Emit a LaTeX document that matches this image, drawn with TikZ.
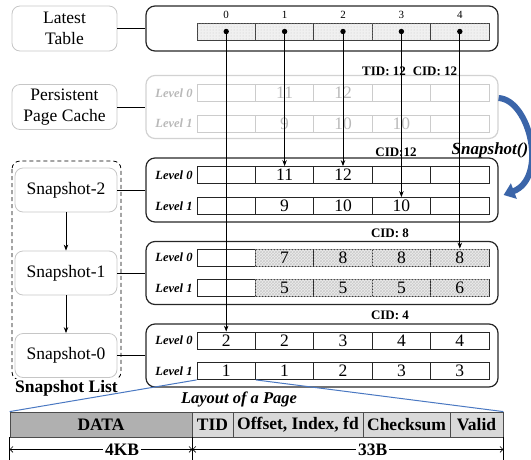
\documentclass[tikz,border=0pt]{standalone}
\usepackage{fontspec}
\setmainfont{Liberation Serif}
\usetikzlibrary{arrows.meta,calc,patterns}
\definecolor{snapblue}{HTML}{3B65A9}
\definecolor{lineblue}{HTML}{4A78C2}
\tikzset{
  lbl/.style={draw=gray!45, line width=0.8pt, rounded corners=8pt, minimum width=105pt, minimum height=45pt,
    font=\fontsize{17.5}{20.5}\selectfont, align=center, inner sep=0pt},
  snlbl/.style={lbl, minimum width=102pt, minimum height=44pt},
  cont/.style={draw=black!85, line width=1.2pt, rounded corners=9pt, minimum width=352pt, inner sep=0pt},
  gcont/.style={cont, draw=gray!35},
  cellbox/.style={draw=black!85, line width=0.8pt, minimum width=58.4pt, minimum height=17pt, inner sep=0pt,
    font=\fontsize{17.5}{17.5}\selectfont},
  gcell/.style={cellbox, draw=gray!40, text=gray!55},
  hcell/.style={cellbox, fill=gray!14, postaction={pattern=crosshatch, pattern color=gray!40}},
  lcell/.style={cellbox, fill=gray!12, draw=black!75, postaction={pattern=dots, pattern color=gray!45}},
  lvl/.style={font=\fontsize{12.5}{12.5}\selectfont\bfseries\itshape, inner sep=0pt},
  glvl/.style={lvl, text=gray!55},
  tag/.style={font=\fontsize{13}{13}\selectfont\bfseries, inner sep=0pt},
  ptr/.style={line width=0.8pt, -{Stealth[length=6pt,width=4.5pt]}},
  conn/.style={line width=0.8pt},
  barbox/.style={draw=black!70, line width=0.8pt, minimum height=25pt, inner sep=0pt,
    font=\fontsize{17.5}{17.5}\selectfont\bfseries, fill=gray!30},
  dim/.style={line width=0.6pt, {Straight Barb[length=3pt,width=6pt]}-{Straight Barb[length=3pt,width=6pt]}},
  dimlbl/.style={fill=white, inner sep=2pt, font=\fontsize{17.5}{17.5}\selectfont\bfseries},
}
\begin{document}
\begin{tikzpicture}[x=1pt,y=-1pt]
\useasboundingbox (0,0) rectangle (531,459);

% left labels
\node[lbl] (latL) at (64.5,28.5) {Latest\\Table};
\node[lbl] (perL) at (64.5,107) {Persistent\\Page Cache};
\draw[dashed, line width=0.8pt, rounded corners=8pt, dash pattern=on 4pt off 3pt] (12,161) rectangle (121,380);
\node[snlbl] (sn2) at (66,190) {Snapshot-2};
\node[snlbl] (sn1) at (66,273) {Snapshot-1};
\node[snlbl] (sn0) at (66,355.5) {Snapshot-0};
\node[font=\fontsize{17.5}{17.5}\selectfont\bfseries, fill=white, inner sep=1pt] (sl) at (66.5,388) {Snapshot List};

% containers
\node[cont, minimum height=45pt] (lat) at (322,28.5) {};
\node[gcont, minimum height=63pt] (per) at (322,107) {};
\node[cont, minimum height=64pt] (s2) at (322,190) {};
\node[cont, minimum height=63pt] (s1) at (322,273) {};
\node[cont, minimum height=63pt] (s0) at (322,355.5) {};

\draw[conn] (latL) -- (lat);
\draw[conn] (perL) -- (per);
\draw[conn] (sn2) -- (s2);
\draw[conn] (sn1) -- (s1);
\draw[conn] (sn0) -- (s0);
\draw[ptr] (sn2) -- (sn1);
\draw[ptr] (sn1) -- (sn0);

% latest table cells
\foreach \i in {0,...,4} {
  \node[lcell] (lt-\i) at ({226.2+58.4*\i},31.5) {};
  \node[font=\fontsize{11}{11}\selectfont, inner sep=0pt] (ln-\i) at ({226.2+58.4*\i},15) {\i};
}

% persistent cache
\node[glvl] (pl0) at (174,93) {Level 0};
\node[glvl] (pl1) at (174,123.5) {Level 1};
\foreach \v [count=\i from 0] in {{},11,12,{},{}}
  \node[gcell] (pa-\i) at ({226.2+58.4*\i},93) {\v};
\foreach \v [count=\i from 0] in {{},9,10,10,{}}
  \node[gcell] (pb-\i) at ({226.2+58.4*\i},123.5) {\v};
\node[tag] (tid) at (384,71) {TID: 12};
\node[tag] (cid) at (435,71) {CID: 12};

% snapshot-2
\node[tag] (c2) at (396,152) {CID:12};
\node[lvl] (s2l0) at (174,175) {Level 0};
\node[lvl] (s2l1) at (174,206) {Level 1};
\foreach \v [count=\i from 0] in {{},11,12,{},{}}
  \node[cellbox] (s2a-\i) at ({226.2+58.4*\i},175) {\v};
\foreach \v [count=\i from 0] in {{},9,10,10,{}}
  \node[cellbox] (s2b-\i) at ({226.2+58.4*\i},206) {\v};

% snapshot-1
\node[tag] (c1) at (390,233) {CID: 8};
\node[lvl] (s1l0) at (174,257.5) {Level 0};
\node[lvl] (s1l1) at (174,288) {Level 1};
\node[cellbox] (s1a-0) at (226.2,257.5) {};
\node[cellbox] (s1b-0) at (226.2,288) {};
\foreach \v [count=\i from 1] in {7,8,8,8}
  \node[hcell] (s1a-\i) at ({226.2+58.4*\i},257.5) {\v};
\foreach \v [count=\i from 1] in {5,5,5,6}
  \node[hcell] (s1b-\i) at ({226.2+58.4*\i},288) {\v};

% snapshot-0
\node[tag] (c0) at (390,315) {CID: 4};
\node[lvl] (s0l0) at (174,340.5) {Level 0};
\node[lvl] (s0l1) at (174,371) {Level 1};
\foreach \v [count=\i from 0] in {2,2,3,4,4}
  \node[cellbox] (s0a-\i) at ({226.2+58.4*\i},340.5) {\v};
\foreach \v [count=\i from 0] in {1,1,2,3,3}
  \node[cellbox] (s0b-\i) at ({226.2+58.4*\i},371) {\v};

% pointers
\draw[ptr] (lt-0.center) -- (s0a-0.north);
\draw[ptr] (lt-1.center) -- (s2a-1.north);
\draw[ptr] (lt-2.center) -- (s2a-2.north);
\draw[ptr] (lt-3.center) -- (s2b-3.north);
\draw[ptr] (lt-4.center) -- (s1a-4.north);
\foreach \i in {0,...,4} \fill (lt-\i.center) circle (2.7pt);

% snapshot arrow
\node[font=\fontsize{17}{17}\selectfont\bfseries\itshape, inner sep=0pt] (snp) at (490,150) {Snapshot()};
\draw[snapblue, line width=6pt, -{Triangle[length=11pt,width=16pt]}]
  ($(per.east)+(0,-9)$) .. controls (530,100) and (548,178) .. ($(s2.east)+(5,5)$);

% page layout
\node[font=\fontsize{16.5}{16.5}\selectfont\bfseries\itshape, inner sep=0pt] (lay) at (239,399) {Layout of a Page};
\node[barbox, fill=gray!62, minimum width=182pt] (data) at (101,424.5) {DATA};
\node[barbox, minimum width=41pt] (tidb) at (212.5,424.5) {TID};
\node[barbox, minimum width=130pt] (offb) at (298,424.5) {Offset, Index, fd};
\node[barbox, minimum width=87pt] (chk) at (406.5,424.5) {Checksum};
\node[barbox, minimum width=53pt] (valid) at (476.5,424.5) {Valid};
\draw[lineblue, line width=1pt] (s0b-0.south west) -- (data.north west);
\draw[lineblue, line width=1pt] (s0b-0.south east) -- (valid.north east);

\draw[line width=0.6pt] (data.south west) -- ++(0,24);
\draw[line width=0.6pt] (data.south east) -- ++(0,24);
\draw[line width=0.6pt] (valid.south east) -- ++(0,24);
\coordinate (d0) at ($(data.south west)+(0,12)$);
\coordinate (d1) at ($(data.south east)+(0,12)$);
\coordinate (d2) at ($(valid.south east)+(0,12)$);
\draw[dim] (d0) -- node[dimlbl, pos=0.615] {4KB} (d1);
\draw[dim] (d1) -- node[dimlbl, pos=0.58] {33B} (d2);
\end{tikzpicture}
\end{document}
